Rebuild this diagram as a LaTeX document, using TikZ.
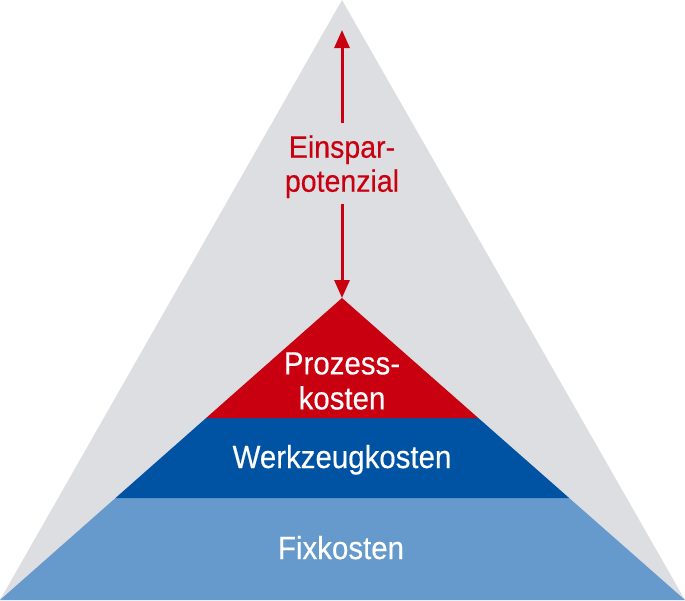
\documentclass[tikz,border=0pt]{standalone}
\usepackage{fontspec}
\setmainfont{Liberation Sans}[FakeStretch=0.92,FakeBold=0.35]
\usetikzlibrary{arrows.meta,calc}
\definecolor{pgray}{HTML}{DDDEE2}
\definecolor{pred}{HTML}{C9000F}
\definecolor{pdblue}{HTML}{0052A3}
\definecolor{plblue}{HTML}{6699CC}
\tikzset{
  lbl/.style={inner sep=0pt, align=center, font=\fontsize{32}{35}\selectfont},
  savarrow/.style={draw=pred, line width=3pt, -{Triangle[length=18pt,width=15pt]}}
}
\begin{document}
\begin{tikzpicture}[x=1pt,y=-1pt]
\useasboundingbox (0,0) rectangle (685,600);
% big gray triangle
\coordinate (gtop) at (342,0);
\coordinate (bl) at (0,600);
\coordinate (br) at (685,600);
\fill[pgray] (gtop) -- (br) -- (bl) -- cycle;
% coloured pyramid
\coordinate (pz) at (342,298);
\coordinate (l1) at ($(pz)!0.3974!(bl)$);
\coordinate (r1) at ($(pz)!0.3974!(br)$);
\coordinate (l2) at ($(pz)!0.6623!(bl)$);
\coordinate (r2) at ($(pz)!0.6623!(br)$);
\fill[plblue] (l2) -- (r2) -- (br) -- (bl) -- cycle;
\fill[pdblue] (l1) -- (r1) -- (r2) -- (l2) -- cycle;
\fill[pred] (pz) -- (r1) -- (l1) -- cycle;
% labels
\node[lbl, text=white] (proz) at (342,381) {Prozess-\\kosten};
\node[lbl, text=white, anchor=base] (werk) at (342,468) {Werkzeugkosten};
\node[lbl, text=white, anchor=base] (fix) at (341,559) {Fixkosten};
\node[lbl, text=pred, text depth=0pt, outer ysep=12pt, font=\fontsize{31}{34}\selectfont] (sav) at (342,163.5) {Einspar-\\potenzial};
% arrows
\coordinate (atop) at (342,30);
\draw[savarrow] (sav.north) -- (atop);
\draw[savarrow] (sav.south) -- (pz);
\end{tikzpicture}
\end{document}
